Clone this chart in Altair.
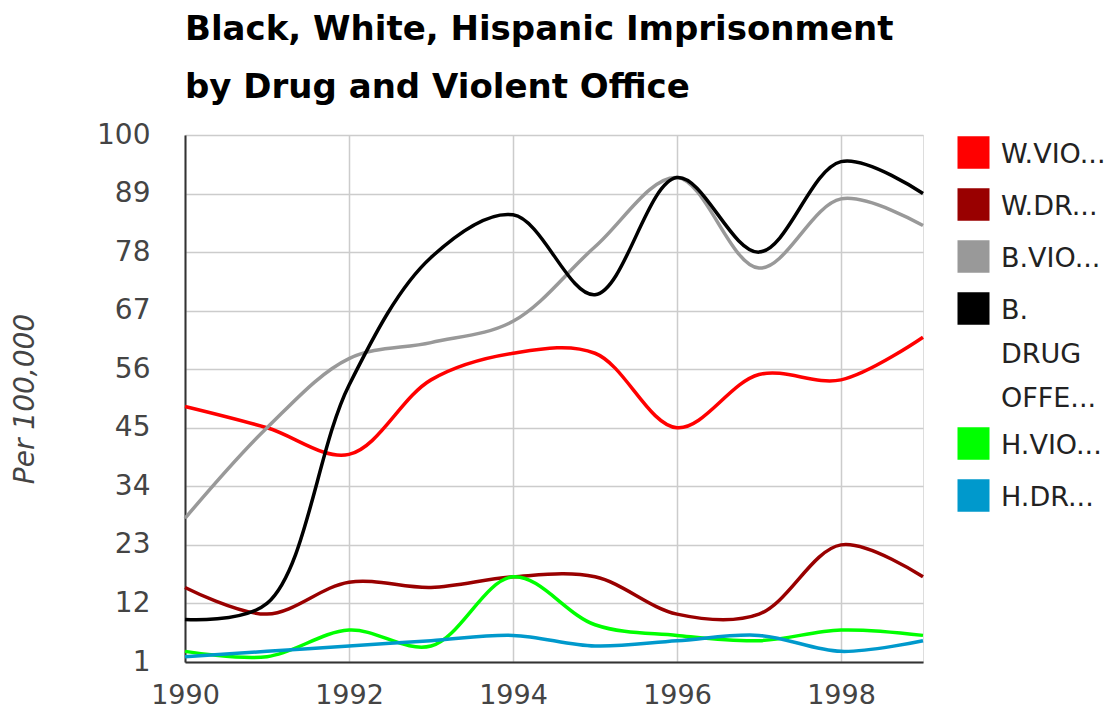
import altair as alt
import pandas as pd

years = [1990, 1991, 1992, 1993, 1994, 1995, 1996, 1997, 1998, 1999]
series = ["W.VIOLENT", "W.DRUG", "B.VIOLENT", "B. DRUG OFFENSE", "H.VIOLENT", "H.DRUG"]
legend_text = ["W.VIO...", "W.DR...", "B.VIO...", "B.|DRUG|OFFE...", "H.VIO...", "H.DR..."]
colors = ["#ff0000", "#990000", "#999999", "#000000", "#00ff00", "#0099cc"]

w_vio = [49, 45, 40, 54, 59, 59, 45, 55, 54, 62]
w_drug = [15, 10, 16, 15, 17, 17, 10, 10, 23, 17]
b_vio = [28, 45, 58, 61, 65, 79, 92, 75, 88, 83]
b_drug = [9, 12, 53, 77, 85, 70, 92, 78, 95, 89]
h_vio = [3, 2, 7, 4, 17, 8, 6, 5, 7, 6]
h_drug = [2, 3, 4, 5, 6, 4, 5, 6, 3, 5]

y_ticks = [1, 12, 23, 34, 45, 56, 67, 78, 89, 100]
x_ticks = [1990, 1992, 1994, 1996, 1998]

values = [w_vio, w_drug, b_vio, b_drug, h_vio, h_drug]
rows = []
for name, vals in zip(series, values):
    for yr, v in zip(years, vals):
        rows.append({"year": yr, "series": name, "value": v})
df = pd.DataFrame(rows)

label_expr = ""
for name, txt in zip(series, legend_text):
    parts = txt.split("|")
    if len(parts) > 1:
        disp = "[" + ",".join("'" + p + "'" for p in parts) + "]"
    else:
        disp = "'" + txt + "'"
    label_expr += f"datum.label == '{name}' ? {disp} : "
label_expr += "datum.label"

# filled square legend swatch drawn as a stack of thin strokes
n_lines = 16
swatch_path = "".join(
    f"M-1,{-1 + (k + 0.5) * 2 / n_lines:.4f}H1" for k in range(n_lines)
)

FONT = "DejaVu Sans"
DY = -11

chart = alt.Chart(df).mark_line(
    interpolate="catmull-rom", strokeWidth=3.5
).encode(
    x=alt.X("year:Q",
            scale=alt.Scale(domain=[1990, 1999], nice=False, zero=False),
            axis=alt.Axis(values=x_ticks, format="d", title=None, ticks=False,
                          labelPadding=20 - DY, labelFontSize=27, labelFont=FONT,
                          labelColor="#444444", domainColor="#333333", domainWidth=2,
                          gridColor="#cccccc", gridWidth=1.5, labelFlush=False)),
    y=alt.Y("value:Q",
            scale=alt.Scale(domain=[1, 100], nice=False, zero=False),
            axis=alt.Axis(values=y_ticks, title="Per 100,000", ticks=False,
                          labelPadding=35, labelFontSize=28, labelFont=FONT,
                          labelOffset=-DY,
                          labelColor="#444444", domainColor="#333333", domainWidth=2,
                          gridColor="#cccccc", gridWidth=1.5,
                          titleFont=FONT, titleFontSize=28, titleFontStyle="italic",
                          titleFontWeight="normal", titleColor="#444444",
                          titlePadding=57, labelFlush=False)),
    color=alt.Color("series:N",
                    scale=alt.Scale(domain=series, range=colors),
                    sort=series,
                    legend=alt.Legend(title=None, orient="right", offset=26, padding=0,
                                      symbolType=swatch_path, symbolSize=1024,
                                      symbolStrokeWidth=2.5, symbolOpacity=1,
                                      labelFont=FONT, labelFontSize=27,
                                      labelColor="#222222", labelLimit=300,
                                      labelOffset=10, rowPadding=11,
                                      labelBaseline="top",
                                      labelExpr=label_expr)),
).properties(
    width=738,
    height=527,
    title=alt.TitleParams(
        text=["Black, White, Hispanic Imprisonment", "by Drug and Violent Office"],
        anchor="start", frame="group", font=FONT, fontSize=34, fontWeight="bold",
        color="#000000", lineHeight=58, offset=16,
    ),
    padding={"left": 177, "top": 127, "right": 187, "bottom": 47},
    autosize=alt.AutoSizeParams(type="none"),
).configure_view(
    stroke=None
).configure(
    style={"guide-label": {"dy": DY, "lineHeight": 44}}
)

chart.save("out.html", embed_options={"renderer": "svg", "actions": False})
